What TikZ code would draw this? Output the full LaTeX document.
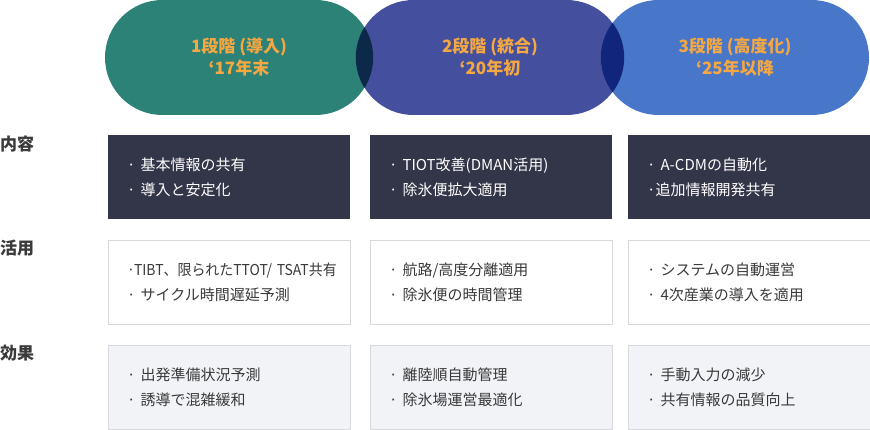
\documentclass[tikz,border=0pt]{standalone}
\usepackage{fontspec}
\setmainfont{Noto Sans CJK JP}
\usetikzlibrary{calc}
\definecolor{stageone}{HTML}{2D8277}
\definecolor{stagetwo}{HTML}{44509E}
\definecolor{stagethree}{HTML}{4876C8}
\definecolor{overone}{HTML}{0C2949}
\definecolor{overtwo}{HTML}{12257C}
\definecolor{stagetext}{HTML}{F5A742}
\definecolor{darkfill}{HTML}{333548}
\definecolor{grayfill}{HTML}{F2F3F7}
\definecolor{cellline}{HTML}{D7D9DD}
\definecolor{bodytext}{HTML}{3A3A3A}
\begin{document}
\begin{tikzpicture}[x=1pt,y=-1pt,
  stage/.style={rectangle,rounded corners=57.5pt,minimum width=268pt,minimum height=115pt,
    inner sep=0pt,text=stagetext,align=center,font=\fontsize{17}{22}\selectfont\bfseries},
  cell/.style={rectangle,anchor=north west,minimum width=242pt,minimum height=84pt,
    text width=204pt,inner xsep=19pt,inner ysep=0pt,align=left,font=\fontsize{15}{25}\selectfont},
  darkcell/.style={cell,fill=darkfill,text=white},
  whitecell/.style={cell,draw=cellline,fill=white,text=bodytext},
  graycell/.style={cell,draw=cellline,fill=grayfill,text=bodytext},
  rowlabel/.style={anchor=west,inner sep=0pt,text=bodytext,font=\fontsize{17}{20}\selectfont\bfseries}]
\useasboundingbox (0,0) rectangle (870,430);

% 段階
\node[stage,fill=stageone] (s1) at (239,57.5) {1段階 (導入)\\‘17年末};
\node[stage,fill=stagetwo] (s2) at (490,57.5) {2段階 (統合)\\‘20年初};
\node[stage,fill=stagethree] (s3) at (735,57.5) {3段階 (高度化)\\‘25年以降};

% 重なり
\begin{scope}
\clip ($(s1.east)+(-57.5,0)$) circle (57.5);
\fill[overone] ($(s2.west)+(57.5,0)$) circle (57.5);
\end{scope}
\begin{scope}
\clip ($(s2.east)+(-57.5,0)$) circle (57.5);
\fill[overtwo] ($(s3.west)+(57.5,0)$) circle (57.5);
\end{scope}

% 内容
\node[rowlabel] (l1) at (0,144) {内容};
\node[darkcell] (c11) at (108,135) {· 基本情報の共有\\· 導入と安定化};
\node[darkcell] (c12) at (370,135) {· TIOT改善(DMAN活用)\\· 除氷便拡大適用};
\node[darkcell] (c13) at (628,135) {· A-CDMの自動化\\·追加情報開発共有};

% 活用
\node[rowlabel] (l2) at (0,248) {活用};
\node[whitecell] (c21) at (108,240) {\scalebox{0.93}[1]{·TIBT、限られたTTOT/ TSAT共有}\\· サイクル時間遅延予測};
\node[whitecell] (c22) at (370,240) {· 航路/高度分離適用\\· 除氷便の時間管理};
\node[whitecell] (c23) at (628,240) {· システムの自動運営\\· 4次産業の導入を適用};

% 効果
\node[rowlabel] (l3) at (0,353) {効果};
\node[graycell] (c31) at (108,345) {· 出発準備状況予測\\· 誘導で混雑緩和};
\node[graycell] (c32) at (370,345) {· 離陸順自動管理\\· 除氷場運営最適化};
\node[graycell] (c33) at (628,345) {· 手動入力の減少\\· 共有情報の品質向上};
\end{tikzpicture}
\end{document}
